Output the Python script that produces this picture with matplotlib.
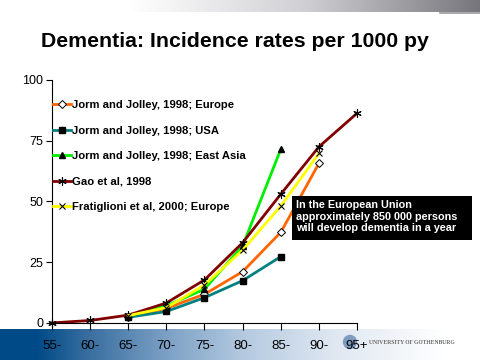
import numpy as np
import matplotlib.pyplot as plt
from matplotlib.colors import LinearSegmentedColormap
from matplotlib.patches import Rectangle

# data (incidence per 1000 person-years)
age_groups = ["55-", "60-", "65-", "70-", "75-", "80-", "85-", "90-", "95+"]

jorm_europe = [None, None, 2.5, 6.0, 11.8, 21.1, 37.3, 65.7, None]
jorm_usa = [None, None, 2.3, 4.7, 10.4, 17.4, 27.3, None, None]
jorm_east_asia = [None, None, 3.0, 7.0, 13.9, 31.7, 71.5, None, None]
gao = [0.0, 1.0, 3.2, 8.2, 17.7, 33.0, 53.0, 72.5, 86.3]
fratiglioni = [None, None, 3.0, 6.3, 15.6, 30.0, 48.1, 69.8, None]

series = [
    ("Jorm and Jolley, 1998; Europe", jorm_europe, "#FF6600",
     dict(marker="D", markersize=4, markerfacecolor="white", markeredgecolor="black", markeredgewidth=0.7)),
    ("Jorm and Jolley, 1998; USA", jorm_usa, "#008080",
     dict(marker="s", markersize=5, markerfacecolor="black", markeredgecolor="black")),
    ("Jorm and Jolley, 1998; East Asia", jorm_east_asia, "#00EE00",
     dict(marker="^", markersize=5, markerfacecolor="black", markeredgecolor="black")),
    ("Gao et al, 1998", gao, "#800000",
     dict(marker=(6, 2, 0), markersize=6, markeredgecolor="black", markeredgewidth=0.8)),
    ("Fratiglioni et al, 2000; Europe", fratiglioni, "#FFFF00",
     dict(marker="x", markersize=4, markeredgecolor="black", markeredgewidth=0.8)),
]

plt.rcParams["font.family"] = ["Liberation Sans", "DejaVu Sans"]

fig = plt.figure(figsize=(4.8, 3.6), dpi=100)
fig.patch.set_facecolor("white")

# =========================
# background banners
# =========================
bg = fig.add_axes([0, 0, 1, 1], zorder=-1)
bg.set_xlim(0, 480)
bg.set_ylim(360, 0)
bg.axis("off")

top_cmap = LinearSegmentedColormap.from_list("top", ["#ffffff", "#d0d0d4", "#76767c"])
bg.imshow(np.linspace(0, 1, 256)[None, :], cmap=top_cmap, aspect="auto",
          extent=[130, 480, 12, 0])
bg.plot([440, 480], [12.5, 12.5], color="#9a9a9a", lw=1.2)

bot_cmap = LinearSegmentedColormap.from_list(
    "bot", [(0, "#004a87"), (0.08, "#004a87"), (0.2, "#3a6fa0"), (0.38, "#7ea2c6"),
            (0.55, "#b5cae0"), (0.75, "#dfe7f1"), (1, "#ffffff")])
bg.imshow(np.linspace(0, 1, 256)[None, :], cmap=bot_cmap, aspect="auto",
          extent=[0, 445, 360, 329])
bg.add_patch(plt.Circle((350, 342), 6.5, color="#7f9cc0", zorder=3))
bg.text(369, 342, "UNIVERSITY OF GOTHENBURG", fontsize=4.1, color="#666666",
        family="Liberation Serif", fontweight="bold", va="center", ha="left", zorder=4)

fig.text(0.49, 0.885, "Dementia: Incidence rates per 1000 py", ha="center", va="center",
         fontsize=15.3, fontweight="bold")

# =========================
# chart
# =========================
ax = fig.add_axes([0.108, 0.103, 0.636, 0.675])
ax.patch.set_alpha(0)

x = np.arange(len(age_groups))
for label, vals, color, mk in series:
    y = np.array([np.nan if v is None else v for v in vals], dtype=float)
    ax.plot(x, y, color=color, lw=2, label=label, clip_on=False, **mk)

ax.set_xlim(0, len(age_groups) - 1)
ax.set_ylim(0, 100)
ax.set_yticks([0, 25, 50, 75, 100])
ax.set_xticks(x)
ax.set_xticklabels(age_groups)
ax.spines["top"].set_visible(False)
ax.spines["right"].set_visible(False)
ax.tick_params(axis="y", direction="out", length=4, labelsize=9, pad=2)
ax.tick_params(axis="x", direction="out", length=5, labelsize=9.5, pad=7)

leg = ax.legend(loc="upper left", bbox_to_anchor=(-0.01, 0.935), frameon=False,
                prop=dict(size=8.1, weight="bold"), handlelength=1.6,
                handletextpad=0.1, labelspacing=1.37, borderaxespad=0)

# note box, drawn over the lines like on the slide
ax.add_patch(Rectangle((0.787, 0.3416), 0.59, 0.181, transform=ax.transAxes,
                       facecolor="black", edgecolor="none", clip_on=False, zorder=5))
ax.text(0.80, 0.506,
        "In the European Union\napproximately 850 000 persons\nwill develop dementia in a year",
        transform=ax.transAxes, ha="left", va="top", color="white",
        fontsize=7.8, fontweight="bold", linespacing=1.2, zorder=6)

plt.savefig("out.png", dpi=100)
